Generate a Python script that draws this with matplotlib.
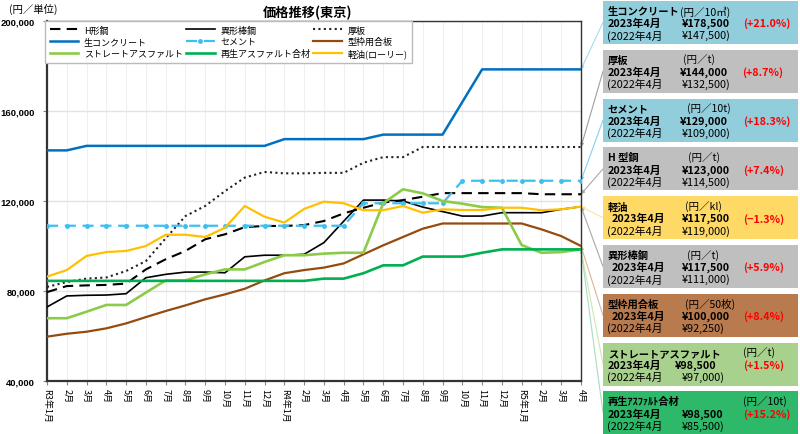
import matplotlib
matplotlib.use("Agg")
import matplotlib.pyplot as plt
from matplotlib.patches import Rectangle

plt.rcParams['font.family'] = ['Noto Sans CJK JP', 'DejaVu Sans']

# ---------------- data ----------------
months = ["R3年1月", "2月", "3月", "4月", "5月", "6月", "7月", "8月", "9月", "10月", "11月", "12月",
          "R4年1月", "2月", "3月", "4月", "5月", "6月", "7月", "8月", "9月", "10月", "11月", "12月",
          "R5年1月", "2月", "3月", "4月"]

h_steel = [79500, 82200, 82500, 82700, 83300, 89600, 94100, 97800, 103000, 105200, 108400, 108900,
           108900, 109300, 111100, 114500, 117000, 119300, 120400, 121900, 123500, 123500, 123500,
           123500, 123500, 123000, 123000, 123000]
deformed_bar = [72900, 77800, 78100, 78200, 78800, 85900, 87400, 88400, 88400, 88100, 95200, 95900,
                95900, 96300, 101500, 111000, 120400, 120400, 120000, 117300, 115300, 113300, 113300,
                114800, 114800, 114800, 116300, 117500]
plate = [81800, 84000, 85500, 86000, 88900, 93300, 103400, 113300, 117800, 124400, 130400, 132900,
         132300, 132300, 132500, 132500, 137000, 139500, 139500, 144000, 144000, 144000, 144000,
         144000, 144000, 144000, 144000, 144000]
concrete = [142500, 142500, 144500, 144500, 144500, 144500, 144500, 144500, 144500, 144500, 144500,
            144500, 147500, 147500, 147500, 147500, 147500, 149500, 149500, 149500, 149500, 164000,
            178500, 178500, 178500, 178500, 178500, 178500]
cement = [109000, 109000, 109000, 109000, 109000, 109000, 109000, 109000, 109000, 109000, 109000,
          109000, 109000, 109000, 109000, 109000, 119000, 119000, 119000, 119000, 119000, 129000,
          129000, 129000, 129000, 129000, 129000, 129000]
plywood = [59700, 61000, 61900, 63400, 65600, 68400, 71100, 73600, 76300, 78500, 81000, 84700,
           87900, 89300, 90400, 92250, 96300, 100300, 104000, 107700, 110000, 110000, 110000, 110000,
           110000, 107400, 104400, 100000]
straight_asphalt = [67900, 67900, 70800, 73800, 73800, 79300, 84700, 84700, 87400, 89600, 89600, 92900,
                    95900, 95900, 96600, 97000, 97000, 119000, 125200, 123400, 120000, 118800, 117300,
                    117000, 100400, 97000, 97300, 98500]
recycled_asphalt = [84500, 84500, 84500, 84500, 84500, 84500, 84500, 84500, 84500, 84500, 84500, 84500,
                    84500, 84500, 85500, 85500, 87900, 91400, 91400, 95300, 95300, 95300, 97000,
                    98500, 98500, 98500, 98500, 98500]
diesel = [86400, 89300, 95600, 97300, 97800, 100000, 105000, 105000, 104000, 108100, 117800, 113000,
          110400, 116500, 119700, 119000, 115900, 115900, 117800, 114800, 116300, 116000, 116000,
          117000, 117000, 115900, 116300, 117500]

series_names = ["H形鋼", "異形棒鋼", "厚板", "生コンクリート", "セメント", "型枠用合板",
                "ストレートアスファルト", "再生アスファルト合材", "軽油(ローリー)"]

y_ticks = [40000, 80000, 120000, 160000, 200000]

# box texts
box_names = ["生コンクリート", "厚板", "セメント", "H 型鋼", "軽油", "異形棒鋼", "型枠用合板",
             "ストレートアスファルト", "再生ｱｽﾌｧﾙﾄ合材"]
box_units = ["(円／10㎥)", "(円／t)", "(円／10t)", "(円／t)", "(円／kl)", "(円／t)", "(円／50枚)",
             "(円／t)", "(円／10t)"]
box_now = ["¥178,500", "¥144,000", "¥129,000", "¥123,000", "¥117,500", "¥117,500", "¥100,000",
           "¥98,500", "¥98,500"]
box_prev = ["¥147,500)", "¥132,500)", "¥109,000)", "¥114,500)", "¥119,000)", "¥111,000)", "¥92,250)",
            "¥97,000)", "¥85,500)"]
box_pct = ["(+21.0%)", "(+8.7%)", "(+18.3%)", "(+7.4%)", "(−1.3%)", "(+5.9%)", "(+8.4%)",
           "(+1.5%)", "(+15.2%)"]

# ---------------- styling ----------------
W, H = 800, 435
fig = plt.figure(figsize=(8, 4.35), dpi=100)
ax = fig.add_axes([47 / W, 1 - 382 / H, 534 / W, 360 / H])

x = list(range(len(months)))
styles = [
    (h_steel, dict(color="black", lw=1.5, dashes=(5, 3))),
    (deformed_bar, dict(color="black", lw=1.2)),
    (plate, dict(color="#222222", lw=1.5, linestyle=(0, (1, 1.6)))),
    (concrete, dict(color="#0070C0", lw=1.8)),
    (cement, dict(color="#3DBFF0", lw=1.6, dashes=(5, 3), marker="o", markersize=2.5)),
    (plywood, dict(color="#964B0E", lw=1.6)),
    (straight_asphalt, dict(color="#8CCB4A", lw=1.9)),
    (recycled_asphalt, dict(color="#00B050", lw=1.9)),
    (diesel, dict(color="#FFC000", lw=1.6)),
]
handles = []
for (vals, kw), name in zip(styles, series_names):
    ln, = ax.plot(x, vals, label=name, zorder=3, **kw)
    handles.append(ln)

ax.set_xlim(0, len(months) - 1)
ax.set_ylim(y_ticks[0], y_ticks[-1])
ax.set_yticks(y_ticks)
ax.set_yticklabels([f"{v:,}" for v in y_ticks],
                   fontfamily="Liberation Sans", fontweight="bold", fontsize=6.8)
ax.set_xticks(x)
ax.set_xticklabels(months, rotation=270, fontsize=6.5, va="top", ha="center")
ax.tick_params(axis="x", length=3, pad=2, color="#888888")
ax.tick_params(axis="y", length=3, pad=5.5, color="#888888")
ax.grid(axis="y", color="#E2E2E2", lw=1.0, zorder=0)
ax.grid(axis="x", color="#F0F0F0", lw=0.8, zorder=0)
for s in ax.spines.values():
    s.set_color("#333333")
    s.set_linewidth(1.0)
ax.spines["left"].set_linewidth(1.6)
ax.spines["bottom"].set_linewidth(1.6)

# legend (order so that rows match the reference)
order = [0, 3, 6, 1, 4, 7, 2, 5, 8]
leg = ax.legend([handles[i] for i in order], [series_names[i] for i in order], ncol=3,
                loc="upper left", bbox_to_anchor=(45 / W, 1 - 65 / H, (412 - 45) / W, 43 / H),
                bbox_transform=fig.transFigure, mode="expand", borderaxespad=0, fontsize=6.5,
                handlelength=3.2, labelspacing=0.28, borderpad=0.5, fancybox=False,
                edgecolor="#BBBBBB", framealpha=1, handletextpad=0.6)
leg.get_frame().set_linewidth(1.0)
leg.set_zorder(5)


def fx(px):
    return px / W


def fy(py):
    return 1 - py / H


fig.text(fx(308), fy(13), "価格推移(東京)", ha="center", va="center", fontsize=9.5, fontweight="bold")
fig.text(fx(9), fy(9), "(円／単位)", ha="left", va="center", fontsize=7.5)

# ---------------- side boxes ----------------
box_colors = ["#92CDDC", "#BFBFBF", "#92CDDC", "#BFBFBF", "#FFD966", "#BFBFBF", "#B97A4E",
              "#A9D18E", "#2DB86A"]
conn_colors = ["#A8D8F0", "#9E9E9E", "#7FD3F5", "#A8A8A8", "#FFE2A0", "#A8A8A8", "#D8B49A",
               "#CDE8B0", "#A6DEC0"]
end_vals = [concrete[-1], plate[-1], cement[-1], h_steel[-1], diesel[-1], deformed_bar[-1],
            plywood[-1], straight_asphalt[-1], recycled_asphalt[-1]]
unit_x = [680, 683, 687, 688, 685, 687, 685, 743, 743]
line2_x = [608, 608, 608, 608, 612, 612, 612, 608, 608]
price_x = [682, 680, 680, 682, 682, 682, 682, 675, 682]
prev_x = [682, 682, 682, 682, 682, 682, 682, 682, 682]
pct_x = [743, 742, 743, 743, 743, 743, 743, 743, 743]

bx0, bw, bh, pitch, top0 = 603, 195, 43, 48.8, 2
for i in range(9):
    top = top0 + pitch * i
    rect = Rectangle((fx(bx0), fy(top + bh)), bw / W, bh / H, transform=fig.transFigure,
                     facecolor=box_colors[i], edgecolor="none", zorder=1)
    fig.add_artist(rect)
    y1, y2, y3 = top + 10, top + 22, top + 34
    fig.text(fx(608), fy(y1), box_names[i], fontsize=7.4, fontweight="bold", va="center", ha="left")
    fig.text(fx(unit_x[i]), fy(y1), box_units[i], fontsize=7.6, va="center", ha="left")
    fig.text(fx(line2_x[i]), fy(y2), "2023年4月", fontsize=7.8, fontweight="bold", va="center", ha="left")
    fig.text(fx(price_x[i]), fy(y2), box_now[i], fontsize=7.8, fontweight="bold", va="center", ha="left")
    fig.text(fx(pct_x[i]), fy(y2), box_pct[i], fontsize=7.8, fontweight="bold", va="center",
             ha="left", color="#FF0000")
    fig.text(fx(607), fy(y3), "(2022年4月", fontsize=7.8, va="center", ha="left")
    fig.text(fx(prev_x[i]), fy(y3), box_prev[i], fontsize=7.8, va="center", ha="left")
    cy = top + bh / 2
    ax.annotate("", xy=(len(months) - 1, end_vals[i]), xytext=(bx0, H - cy),
                textcoords="figure pixels", annotation_clip=False,
                arrowprops=dict(arrowstyle="-|>", color=conn_colors[i], lw=0.8,
                                mutation_scale=5, shrinkA=0, shrinkB=0), zorder=2)

fig.savefig("out.png", dpi=100)
